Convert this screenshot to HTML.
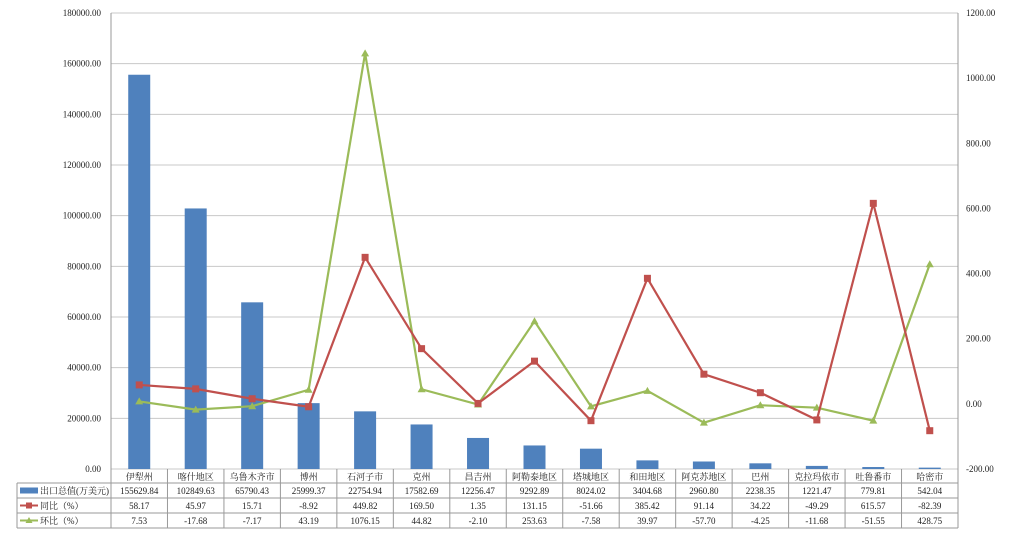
<!DOCTYPE html>
<html><head><meta charset="utf-8"><style>
body{margin:0;background:#fff;}
svg text{font-family:"Liberation Serif","Noto Serif CJK SC","Noto Sans CJK SC",serif;font-size:9px;fill:#222;}
</style></head><body>
<svg id="c" width="1024" height="540"></svg>
<script>
const categories=["伊犁州","喀什地区","乌鲁木齐市","博州","石河子市","克州","昌吉州","阿勒泰地区","塔城地区","和田地区","阿克苏地区","巴州","克拉玛依市","吐鲁番市","哈密市"];
const exportValues=[155629.84,102849.63,65790.43,25999.37,22754.94,17582.69,12256.47,9292.89,8024.02,3404.68,2960.80,2238.35,1221.47,779.81,542.04];
const yoyValues=[58.17,45.97,15.71,-8.92,449.82,169.50,1.35,131.15,-51.66,385.42,91.14,34.22,-49.29,615.57,-82.39];
const momValues=[7.53,-17.68,-7.17,43.19,1076.15,44.82,-2.10,253.63,-7.58,39.97,-57.70,-4.25,-11.68,-51.55,428.75];
const leftTicks=[0,20000,40000,60000,80000,100000,120000,140000,160000,180000];
const rightTicks=[-200,0,200,400,600,800,1000,1200];
const NS="http://www.w3.org/2000/svg";
const svg=document.getElementById('c');
const L=111,R=958,T=13,B=469;
const n=categories.length, cw=(R-L)/n;
const yL=v=>B-(v/180000)*(B-T);
const yR=v=>B-((v+200)/1400)*(B-T);
const xC=i=>L+cw*(i+0.5);
function mk(tag,attrs,txt){const e=document.createElementNS(NS,tag);for(const k in attrs)e.setAttribute(k,attrs[k]);if(txt!==undefined)e.textContent=txt;svg.appendChild(e);return e;}
leftTicks.forEach(v=>{
 const g=mk('line',{x1:L,x2:R,y1:yL(v),y2:yL(v),stroke:'#c8c8c8','stroke-width':1});
 
 
 const t=mk('text',{x:L-10,y:yL(v)+3,'text-anchor':'end'},v.toFixed(2));
 
 
});
rightTicks.forEach(v=>{
 const t=mk('text',{x:R+8,y:yR(v)+3,'text-anchor':'start'},v.toFixed(2));
 
 
});
const ax1=mk('line',{x1:L,x2:L,y1:T,y2:B,stroke:'#999'});


const ax2=mk('line',{x1:R,x2:R,y1:T,y2:B,stroke:'#999'});


exportValues.forEach((v,i)=>{
 const b=mk('rect',{x:xC(i)-11,y:yL(v),width:22,height:B-yL(v),fill:'#4f81bd'});
 
 
});
function series(vals,color,marker,name){
 const p=mk('polyline',{points:vals.map((v,i)=>xC(i)+','+yR(v)).join(' '),fill:'none',stroke:color,'stroke-width':2.2});
 
 
 vals.forEach((v,i)=>{
  let m;
  if(marker==='sq')m=mk('rect',{x:xC(i)-3.5,y:yR(v)-3.5,width:7,height:7,fill:color});
  else m=mk('polygon',{points:`${xC(i)},${yR(v)-4} ${xC(i)-4},${yR(v)+3} ${xC(i)+4},${yR(v)+3}`,fill:color});
  
  
 });
}
series(momValues,'#9bbb59','tri','mom');
series(yoyValues,'#c0504d','sq','yoy');
// table
const TL=17, rows=[469,483,498,513,528];
const hl=(y,x1)=>{const l=mk('line',{x1:x1,x2:R,y1:y,y2:y,stroke:'#999'});};
hl(rows[1],TL);hl(rows[2],TL);hl(rows[3],TL);hl(rows[4],TL);
for(let i=0;i<=n;i++){const x=L+cw*i;const l=mk('line',{x1:x,x2:x,y1:rows[0],y2:rows[4],stroke:'#999'});}
const lv=mk('line',{x1:TL,x2:TL,y1:rows[1],y2:rows[4],stroke:'#999'});
categories.forEach((c,i)=>{const t=mk('text',{x:xC(i),y:rows[0]+11,'text-anchor':'middle'},c);});
const rowData=[exportValues,yoyValues,momValues];
rowData.forEach((arr,r)=>arr.forEach((v,i)=>{const t=mk('text',{x:xC(i),y:rows[r+1]+11,'text-anchor':'middle'},v.toFixed(2));}));
const names=['出口总值(万美元)','同比（%）','环比（%）'];
const colors=['#4f81bd','#c0504d','#9bbb59'];
names.forEach((nm,r)=>{
 const cy=rows[r+1]+7.5;
 let k;
 if(r===0)k=mk('rect',{x:20,y:cy-3,width:18,height:6,fill:colors[0]});
 else{k=mk('line',{x1:20,x2:38,y1:cy,y2:cy,stroke:colors[r],'stroke-width':2});
  const m=r===1?mk('rect',{x:26,y:cy-3,width:6,height:6,fill:colors[r]}):mk('polygon',{points:`29,${cy-3.5} 25.5,${cy+2.5} 32.5,${cy+2.5}`,fill:colors[r]});
  }
 
 
 const t=mk('text',{x:40,y:rows[r+1]+11,'font-size':'10px'},nm);
 
 
});
</script>
</body></html>
